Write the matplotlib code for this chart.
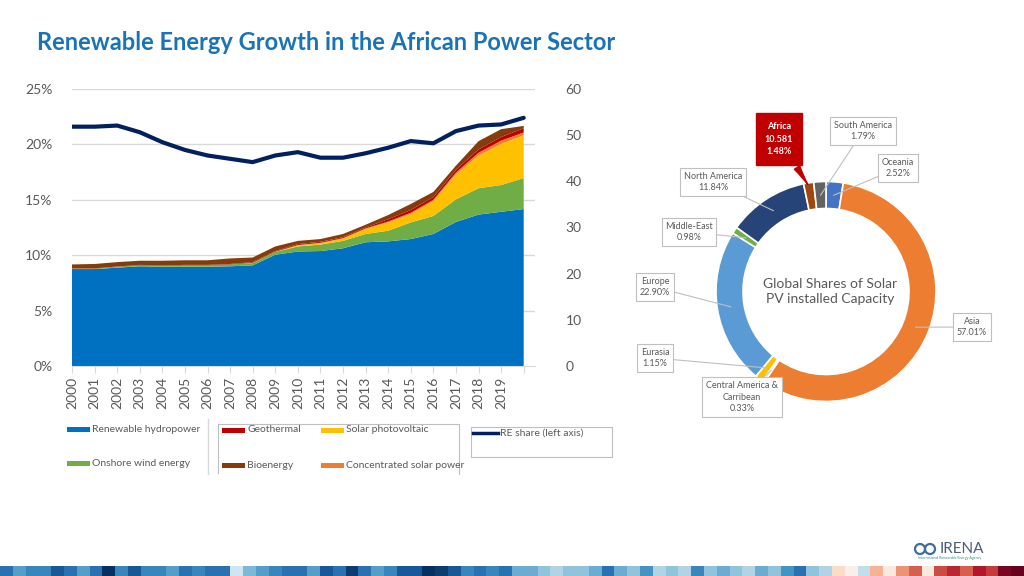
import numpy as np
import matplotlib
matplotlib.use("Agg")
import matplotlib.pyplot as plt
from matplotlib.patches import Rectangle, Circle

plt.rcParams['font.family'] = ['Lato', 'DejaVu Sans']

# ---- stacked capacity (GW, right axis) ----
years = [str(y) for y in range(2000, 2020)] + ['']
hydro = [21.0, 21.0, 21.3, 21.6, 21.5, 21.5, 21.5, 21.6, 21.8, 24.1, 24.8,
         24.9, 25.5, 26.8, 27.0, 27.5, 28.6, 31.2, 32.8, 33.4, 34.0]
wind = [0.1, 0.1, 0.2, 0.2, 0.2, 0.3, 0.3, 0.4, 0.5, 0.6, 1.1,
        1.4, 1.6, 1.8, 2.3, 3.6, 3.9, 4.9, 5.7, 5.8, 6.7]
solar_pv = [0, 0, 0, 0, 0, 0, 0, 0, 0.05, 0.05, 0.2,
            0.3, 0.5, 1.1, 1.8, 1.8, 3.2, 5.4, 7.1, 8.9, 9.3]
csp = [0, 0, 0, 0, 0, 0, 0, 0, 0, 0, 0.1,
       0.1, 0.1, 0.1, 0.2, 0.3, 0.3, 0.4, 0.6, 0.7, 0.6]
geothermal = [0.05, 0.05, 0.05, 0.1, 0.1, 0.1, 0.1, 0.1, 0.15, 0.15, 0.2,
              0.2, 0.2, 0.2, 0.5, 0.6, 0.6, 0.6, 0.7, 0.8, 0.9]
bioenergy = [0.85, 0.95, 0.95, 0.9, 1.0, 1.0, 1.0, 1.2, 1.0, 1.0, 0.7,
             0.6, 0.7, 0.6, 0.9, 1.3, 1.1, 0.9, 1.8, 1.7, 0.5]
# RE share in % (left axis)
re_share = [21.6, 21.6, 21.7, 21.1, 20.2, 19.5, 19.0, 18.7, 18.4, 19.0, 19.3,
            18.8, 18.8, 19.2, 19.7, 20.3, 20.1, 21.2, 21.7, 21.8, 22.4]

pct_ticks = [0, 5, 10, 15, 20, 25]
gw_ticks = [0, 10, 20, 30, 40, 50, 60]

# ---- donut: global solar PV shares ----
regions = ['Oceania', 'Asia', 'Central America &\nCarribean', 'Eurasia', 'Europe',
           'Middle-East', 'North America', 'Africa', 'South America']
shares = [2.52, 57.01, 0.33, 1.15, 22.90, 0.98, 11.84, 1.48, 1.79]
region_colors = ['#4472C4', '#ED7D31', '#A5A5A5', '#FFC000', '#5B9BD5',
                 '#70AD47', '#264478', '#9E480E', '#636363']
africa_capacity = '10.581'

# footer stripes (hand-read shades, -1 = dark blue, 1 = dark red)
stripe_vals = [-0.75, -0.55, -0.65, -0.65, -0.85, -0.75, -0.55, -0.75, -1.0, -0.65,
               -0.85, -0.65, -0.65, -0.55, -0.75, -0.65, -0.75, -0.75, -0.2, -0.45,
               -0.55, -0.65, -0.75, -0.75, -0.55, -0.85, -0.75, -0.95, -0.75, -0.55,
               -0.65, -0.85, -0.85, -1.0, -0.95, -0.85, -0.65, -0.75, -0.65, -0.75,
               -0.5, -0.5, -0.4, -0.3, -0.4, -0.4, -0.5, -0.75, -0.5, -0.4,
               -0.6, -0.3, -0.4, -0.3, -0.65, -0.4, -0.5, -0.4, -0.3, -0.5,
               -0.4, -0.6, -0.75, -0.4, -0.3, 0.2, 0.05, -0.25, 0.35, 0.1,
               0.45, 0.6, 0.1, 0.65, 0.75, 0.6, 0.8, 0.7, 0.95, 1.0]

W, H = 1024, 576
GREY = '#595959'
fig = plt.figure(figsize=(W / 100, H / 100), dpi=100)


def fx(px):
    return px / W


def fy(py):
    return 1 - py / H


# ---- area chart ----
ax = fig.add_axes([fx(72), fy(366), fx(535) - fx(72), fy(89) - fy(366)])
x = np.arange(len(years))
area_colors = ['#0070C0', '#70AD47', '#FFC000', '#ED7D31', '#C00000', '#843C0C']
ax.stackplot(x, hydro, wind, solar_pv, csp, geothermal, bioenergy,
             colors=area_colors, linewidth=0, zorder=2)
ax.set_xlim(0, 20.5)
ax.set_ylim(0, 60)
for p in pct_ticks[1:]:
    ax.axhline(p * 60 / 25, color='#D9D9D9', lw=1, zorder=0.5)
ax.set_xticks(x)
ax.set_xticklabels(years, rotation=90)
ax.tick_params(axis='x', length=5, color='#D9D9D9', labelsize=10,
               labelcolor=GREY, pad=3)
for s in ['top', 'left', 'right']:
    ax.spines[s].set_visible(False)
ax.spines['bottom'].set_color('#D9D9D9')

ax2 = ax.twinx()
ax2.plot(x, re_share, color='#002060', lw=3, solid_capstyle='round', zorder=3)
ax2.set_ylim(0, 25)
ax2.yaxis.tick_left()
ax2.set_yticks(pct_ticks)
ax2.set_yticklabels([f'{p}%' for p in pct_ticks])
ax2.tick_params(axis='y', length=0, pad=14, labelsize=10, labelcolor=GREY)
for s in ax2.spines.values():
    s.set_visible(False)

# right axis (GW) after twinx so it stays on the right
ax.yaxis.tick_right()
ax.set_yticks(gw_ticks)
ax.tick_params(axis='y', length=0, pad=22, labelsize=10, labelcolor=GREY)

# ---- overlay in pixel coordinates ----
ov = fig.add_axes([0, 0, 1, 1])
ov.set_xlim(0, W)
ov.set_ylim(0, H)
ov.axis('off')


def Y(py):
    return H - py


fig.text(fx(37), fy(43), 'Renewable Energy Growth in the African Power Sector',
         fontsize=17, fontweight='bold', color='#1A73B4', va='center')

# legend
legend_items = [
    ('Renewable hydropower', area_colors[0], 67, 429),
    ('Onshore wind energy', area_colors[1], 67, 463),
    ('Geothermal', area_colors[4], 222, 430),
    ('Solar photovoltaic', area_colors[2], 321, 430),
    ('Bioenergy', area_colors[5], 222, 465),
    ('Concentrated solar power', area_colors[3], 321, 465),
]
for label, col, px, py in legend_items:
    ov.add_patch(Rectangle((px, Y(py) - 2.5), 23, 5, color=col, lw=0))
    ov.text(px + 25, Y(py), label, fontsize=7.5, color=GREY, va='center')
ov.plot([473, 498], [Y(433), Y(433)], color='#002060', lw=2.5)
ov.text(500, Y(433), 'RE share (left axis)', fontsize=7.5, color=GREY, va='center')
ov.plot([208, 208], [Y(419), Y(474)], color='#D9D9D9', lw=1)
ov.plot([218, 218, 459, 459], [Y(473), Y(424), Y(424), Y(474)], color='#BFBFBF', lw=0.8)
ov.add_patch(Rectangle((471, Y(457)), 141, 30, fill=False, ec='#BFBFBF', lw=0.8))

# donut
cx, cy, R, ring = 826, Y(291.5), 110, 27
ov.pie(shares, colors=region_colors, startangle=90, counterclock=False,
       center=(cx, cy), radius=R,
       wedgeprops=dict(width=ring, edgecolor='white', linewidth=1.2))
ov.set_xlim(0, W)
ov.set_ylim(0, H)
ov.set_aspect('auto')
ov.text(cx + 4, cy, 'Global Shares of Solar\nPV installed Capacity', fontsize=10,
        color=GREY, ha='center', va='center', linespacing=1.3)

# label boxes (pixel centre of each box)
label_pos = {
    'Oceania': (898, 168), 'Asia': (972, 327),
    'Central America &\nCarribean': (742, 397), 'Eurasia': (655, 358),
    'Europe': (655, 287), 'Middle-East': (689, 232),
    'North America': (713, 182), 'South America': (863, 131),
}
cum = np.cumsum([0] + shares)
for i, name in enumerate(regions):
    mid = (cum[i] + cum[i + 1]) / 2 / 100 * 2 * np.pi
    if name == 'Africa':
        tip = (cx + np.sin(mid) * (R - 4), cy + np.cos(mid) * (R - 4))
        ov.annotate(f'Africa\n{africa_capacity}\n{shares[i]:.2f}%', xy=tip,
                    xytext=(779, Y(139)), fontsize=6.5, fontweight='bold',
                    color='white', ha='center', va='center', linespacing=1.45,
                    bbox=dict(boxstyle='square,pad=1.0', fc='#C00000', ec='#C00000'),
                    arrowprops=dict(arrowstyle='wedge,tail_width=0.7,shrink_factor=0.4',
                                    fc='#C00000', ec='#C00000'), zorder=6)
        continue
    r_mid = R - ring / 2
    px, py = label_pos[name]
    wx, wy = cx + np.sin(mid) * r_mid, cy + np.cos(mid) * r_mid
    ov.plot([px, wx], [Y(py), wy], color='#BFBFBF', lw=0.8, zorder=4)
    ov.text(px, Y(py), f'{name}\n{shares[i]:.2f}%', fontsize=6.5, color=GREY,
            ha='center', va='center', linespacing=1.4, zorder=5,
            bbox=dict(boxstyle='square,pad=0.4', fc='white', ec='#BFBFBF', lw=0.8))

# IRENA logo
for lx in (920, 930):
    ov.add_patch(Circle((lx, Y(549)), 5, fill=False, ec='#3C6E9F', lw=1.6))
ov.text(940, Y(549), 'IRENA', fontsize=11, color='#4A5E7A', va='center')
ov.text(950, Y(558), 'International Renewable Energy Agency', fontsize=2.6,
        color='#2E8B80', ha='center', va='center')

# footer stripes
sax = fig.add_axes([0, 0, 1, 10 / H])
sax.imshow([stripe_vals], cmap='RdBu_r', vmin=-1, vmax=1, aspect='auto')
sax.axis('off')

fig.savefig('out.png', dpi=100, facecolor='white')
